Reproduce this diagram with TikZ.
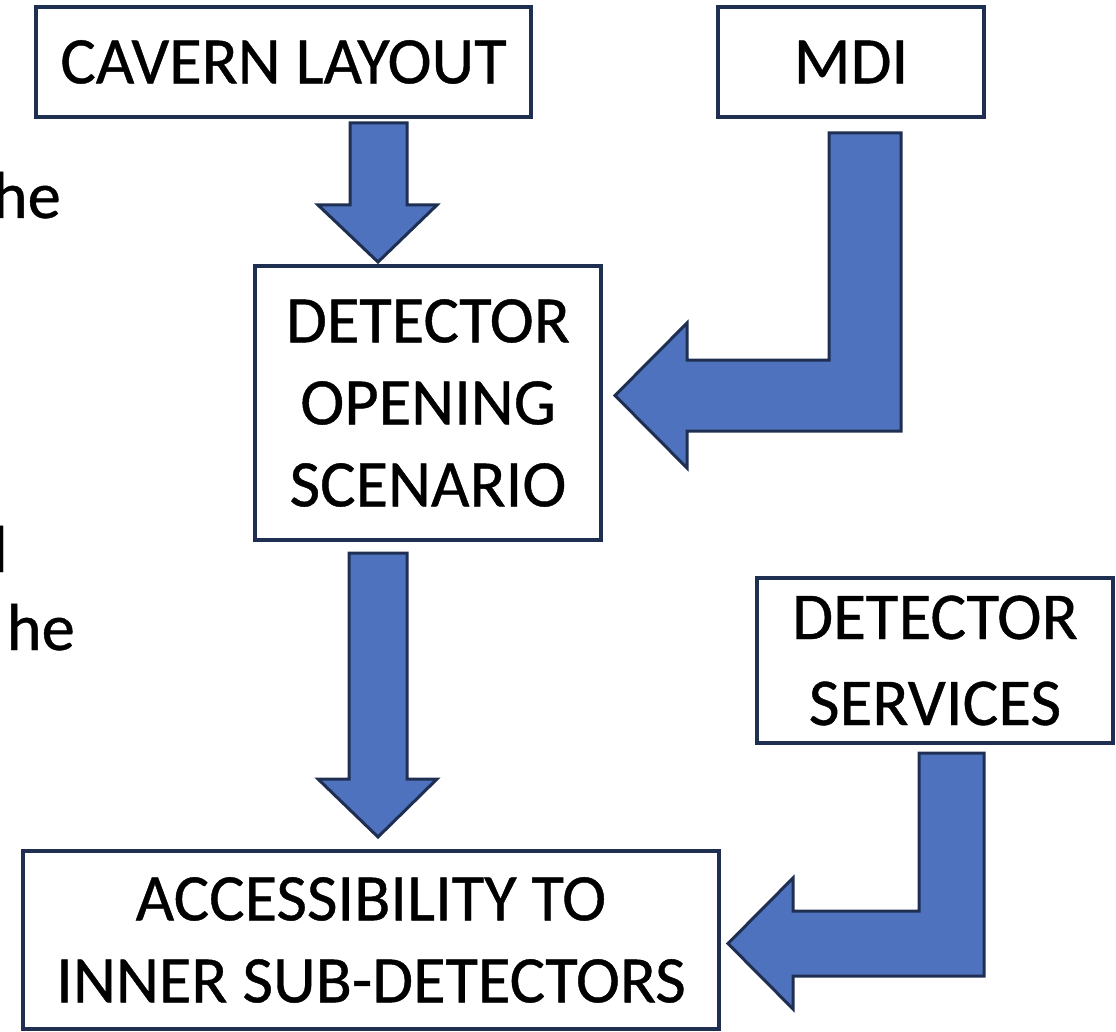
\documentclass[tikz,border=0pt]{standalone}
\usepackage{fontspec}
\setmainfont[FakeBold=0.6]{Carlito}
\newfontfamily\boxfont[FakeBold=0.6]{Carlito}
\definecolor{arrowfill}{HTML}{4F72BF}
\definecolor{navy}{HTML}{1F2F52}
\begin{document}
\begin{tikzpicture}[x=1pt,y=-1pt,
  box/.style={draw=navy,line width=4pt,fill=white,inner sep=0pt,align=center,
    font=\boxfont\fontsize{66.5}{82}\selectfont},
  blockarrow/.style={fill=arrowfill,draw=navy,line width=3pt,line join=miter},
  frag/.style={inner sep=0pt,font=\boxfont\fontsize{66.5}{82}\selectfont}]
\useasboundingbox (0,0) rectangle (1116,1032);
% boxes
\node[box,minimum width=495pt,minimum height=110pt] (cavern) at (283.5,62) {CAVERN LAYOUT};
\node[box,minimum width=266pt,minimum height=110pt] (mdi) at (851,62) {MDI};
\node[box,minimum width=346pt,minimum height=274pt] (opening) at (428,403) {DETECTOR\\OPENING\\SCENARIO};
\node[box,minimum width=356pt,minimum height=165pt,font=\boxfont\fontsize{67}{86}\selectfont] (services) at (935,660.5) {DETECTOR\\SERVICES};
\node[box,minimum width=696pt,minimum height=178pt] (access) at (371,940) {ACCESSIBILITY TO\\INNER SUB-DETECTORS};
% block arrows
\draw[blockarrow] (350,123) -- (407,123) -- (407,205) -- (437,205) -- (378,262) -- (318,205) -- (350,205) -- cycle;
\draw[blockarrow] (349,553) -- (407,553) -- (407,779) -- (437,779) -- (378,837) -- (318,779) -- (349,779) -- cycle;
\draw[blockarrow] (829,133) -- (901,133) -- (901,431) -- (687,431) -- (687,468) -- (615,395.5) -- (687,323) -- (687,360) -- (829,360) -- cycle;
\draw[blockarrow] (919,753) -- (984,753) -- (984,976) -- (793,976) -- (793,1009) -- (728,943.5) -- (793,878) -- (793,911) -- (919,911) -- cycle;
% text fragments at the left edge (cut by the picture's edge, as in the reference)
\node[frag,anchor=base east] (fragA) at (61,218) {he};
\node[frag,anchor=base east] (fragB) at (8,572) {l};
\node[frag,anchor=base east] (fragC) at (75,650) {he};
\end{tikzpicture}
\end{document}
